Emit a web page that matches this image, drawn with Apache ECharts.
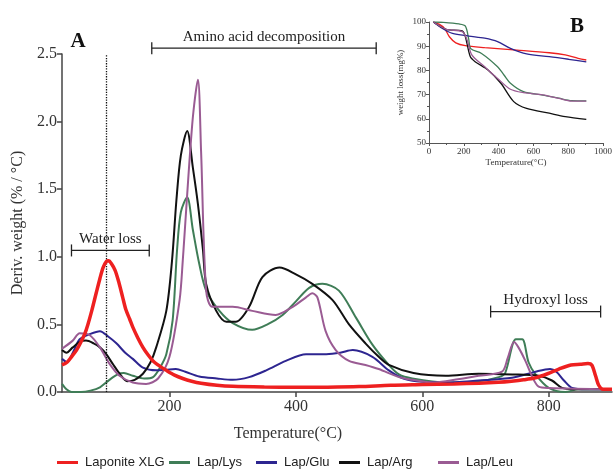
<!DOCTYPE html>
<html>
<head>
<meta charset="utf-8">
<title>DTG / TGA</title>
<script src="https://cdn.jsdelivr.net/npm/echarts@6.0.0/dist/echarts.min.js"></script>
<style>
    html, body { margin: 0; padding: 0; background: #fff; }
    #chart { width: 615px; height: 474px; }
</style>
</head>
<body>
<div id="chart"></div>
<script>
    var names = ['Laponite XLG', 'Lap/Lys', 'Lap/Glu', 'Lap/Arg', 'Lap/Leu'];
    var colors = ['#ee2020', '#3f7d57', '#2d2590', '#111111', '#9a5b93'];

    // panel A - deriv. weight, [temperature °C, %/°C]
    var dtgLaponite = [[30,0.2],[38,0.22],[45,0.26],[53,0.31],[60,0.37],[66,0.43],[71,0.5],[77,0.6],[84,0.73],[90,0.84],[95,0.92],[100,0.965],[104,0.97],[108,0.95],[114,0.9],[120,0.81],[126,0.7],[131,0.61],[137,0.54],[142,0.48],[150,0.4],[158,0.33],[166,0.275],[174,0.23],[185,0.19],[195,0.16],[208,0.125],[221,0.1],[235,0.08],[250,0.065],[275,0.05],[300,0.042],[350,0.037],[400,0.035],[450,0.036],[500,0.04],[550,0.05],[600,0.055],[650,0.06],[690,0.065],[720,0.072],[741,0.08],[760,0.09],[779,0.105],[798,0.135],[816,0.17],[835,0.2],[850,0.205],[862,0.21],[868,0.2],[874,0.12],[879,0.05],[886,0.02],[900,0.02]];
    var dtgLys = [[30,0.06],[37,0.02],[45,0.0],[60,0.0],[75,0.01],[90,0.035],[105,0.09],[118,0.13],[128,0.14],[142,0.12],[160,0.1],[174,0.11],[185,0.18],[195,0.28],[205,0.53],[212,1.05],[218,1.33],[228,1.44],[237,1.2],[247,0.95],[258,0.75],[279,0.6],[300,0.51],[331,0.46],[355,0.5],[379,0.57],[400,0.67],[421,0.77],[442,0.8],[468,0.75],[495,0.55],[521,0.35],[547,0.2],[563,0.13],[584,0.1],[637,0.07],[689,0.08],[721,0.11],[731,0.14],[748,0.39],[758,0.39],[768,0.22],[779,0.13],[800,0.03],[826,0.0],[847,0.02],[900,0.02]];
    var dtgGlu = [[30,0.245],[38,0.22],[48,0.3],[58,0.39],[75,0.43],[90,0.45],[103,0.41],[116,0.36],[130,0.29],[142,0.245],[158,0.18],[179,0.16],[195,0.165],[210,0.17],[225,0.15],[247,0.115],[275,0.1],[300,0.09],[326,0.11],[353,0.16],[384,0.23],[416,0.28],[448,0.28],[470,0.29],[490,0.31],[521,0.26],[547,0.16],[570,0.1],[600,0.075],[637,0.07],[689,0.085],[742,0.105],[779,0.15],[802,0.17],[812,0.15],[824,0.085],[837,0.03],[860,0.02],[900,0.02]];
    var dtgArg = [[30,0.31],[37,0.29],[47,0.33],[58,0.37],[68,0.38],[80,0.36],[90,0.33],[100,0.28],[110,0.21],[122,0.13],[133,0.08],[145,0.09],[158,0.135],[170,0.22],[179,0.33],[195,0.6],[204,0.97],[211,1.42],[218,1.75],[228,1.93],[237,1.66],[245,1.39],[253,1.05],[258,0.8],[274,0.6],[290,0.52],[305,0.52],[326,0.63],[347,0.85],[374,0.92],[400,0.87],[426,0.8],[458,0.68],[484,0.5],[510,0.36],[531,0.26],[547,0.2],[586,0.14],[637,0.12],[689,0.135],[742,0.13],[784,0.12],[805,0.085],[821,0.03],[840,0.02],[900,0.02]];
    var dtgLeu = [[30,0.32],[47,0.38],[58,0.435],[74,0.42],[90,0.33],[105,0.21],[121,0.12],[142,0.07],[163,0.06],[182,0.1],[200,0.26],[216,0.68],[221,0.97],[236,1.98],[245,2.31],[250,1.78],[258,0.75],[268,0.63],[300,0.63],[331,0.6],[368,0.57],[395,0.63],[416,0.7],[426,0.73],[434,0.7],[447,0.45],[463,0.31],[484,0.23],[510,0.2],[531,0.17],[563,0.11],[584,0.09],[616,0.07],[637,0.08],[689,0.12],[726,0.15],[735,0.25],[745,0.37],[752,0.33],[763,0.23],[775,0.1],[784,0.04],[800,0.03],[900,0.02]];

    // panel B - weight loss, [temperature °C, mg%]
    var tgaLaponite = [[25,100],[60,99],[89,97.4],[117,93.9],[154,91.4],[209,90.2],[320,89.4],[505,88.4],[691,87.3],[783,86.4],[857,85],[904,84.3]];
    var tgaLys = [[25,100],[70,99.9],[172,99.2],[209,98.3],[228,93],[240,89],[302,87],[394,81.5],[432,78],[468,74.7],[543,71.2],[654,69.8],[746,68.5],[820,67.5],[904,67.4]];
    var tgaGlu = [[25,100],[80,97.2],[135,95.3],[228,94.2],[320,93.3],[394,91.9],[468,89.1],[561,86.8],[691,85.7],[802,84.6],[904,83.5]];
    var tgaArg = [[25,100],[98,97],[191,96.3],[209,93.9],[237,85.7],[265,83.6],[339,80.2],[413,74.7],[487,67.1],[561,64.3],[691,62.3],[783,60.9],[904,59.8]];
    var tgaLeu = [[25,100],[98,97],[191,96],[219,92.6],[246,86.4],[320,81.5],[394,76.7],[468,72.2],[543,70.8],[654,69.9],[746,68.4],[820,67.3],[904,67.3]];

    var xTicks = [200, 400, 600, 800];

    // brackets on panel A: [from, to, level, text]
    var brackets = [
        [172, 527, 2.543, 'Amino acid decomposition'],
        [45, 168, 1.047, 'Water loss'],
        [708, 882, 0.595, 'Hydroxyl loss']
    ];
    var waterLine = 100;

    var dtg = [dtgLaponite, dtgLys, dtgGlu, dtgArg, dtgLeu];
    var tga = [tgaLaponite, tgaLys, tgaGlu, tgaArg, tgaLeu];

    var serif = "'Liberation Serif', 'Times New Roman', serif";
    var sans = "'Liberation Sans', Arial, sans-serif";

    var series = [];
    names.forEach(function (n, i) {
        var s = {
            name: n,
            type: 'line',
            xAxisIndex: 0,
            yAxisIndex: 0,
            data: dtg[i],
            showSymbol: false,
            smooth: 0.3,
            lineStyle: { color: colors[i], width: i === 0 ? 3.5 : 2 },
            itemStyle: { color: colors[i] },
            z: i === 0 ? 5 : 3
        };
        if (i === 0) {
            s.markLine = {
                silent: true,
                symbol: ['none', 'none'],
                label: { show: false },
                lineStyle: { type: 'dotted', color: '#111', width: 1.3 },
                data: [{ xAxis: waterLine }]
            };
        }
        series.push(s);
    });
    names.forEach(function (n, i) {
        series.push({
            name: n,
            type: 'line',
            xAxisIndex: 1,
            yAxisIndex: 1,
            data: tga[i],
            showSymbol: false,
            smooth: 0.3,
            lineStyle: { color: colors[i], width: 1.3 },
            itemStyle: { color: colors[i] }
        });
    });

    // one legend per item so the spacing follows the figure
    var legendLeft = [52, 164, 251, 334, 433];
    var legends = names.map(function (n, i) {
        return {
            data: [n],
            left: legendLeft[i],
            top: 451,
            icon: 'rect',
            itemWidth: 21,
            itemHeight: 3,
            textStyle: { fontFamily: sans, fontSize: 13, color: '#222', padding: [0, 0, 0, 2] }
        };
    });

    var option = {
        animation: false,
        backgroundColor: '#fff',
        legend: legends,
        grid: [
            { left: 62, top: 54, right: 3, bottom: 82 },
            { left: 429, top: 22, width: 180, height: 121 }
        ],
        xAxis: [
            {
                type: 'value',
                gridIndex: 0,
                min: 30,
                max: 900,
                splitLine: { show: false },
                axisLine: { lineStyle: { color: '#444', width: 1.5 } },
                axisTick: { customValues: xTicks, length: 5, lineStyle: { color: '#444', width: 1.5 } },
                axisLabel: { customValues: xTicks, fontFamily: serif, fontSize: 16, color: '#333', margin: 7 }
            },
            {
                type: 'value',
                gridIndex: 1,
                min: 0,
                max: 1000,
                interval: 200,
                name: 'Temperature(°C)',
                nameLocation: 'middle',
                nameGap: 15,
                nameTextStyle: { fontFamily: serif, fontSize: 9, color: '#333' },
                splitLine: { show: false },
                axisLine: { lineStyle: { color: '#555', width: 1 } },
                axisTick: { length: 3, lineStyle: { color: '#555' } },
                minorTick: { show: true, splitNumber: 2, length: 2, lineStyle: { color: '#555' } },
                axisLabel: {
                    fontFamily: serif, fontSize: 9, color: '#333', margin: 4,
                    formatter: function (v) { return String(v); }
                }
            }
        ],
        yAxis: [
            {
                type: 'value',
                gridIndex: 0,
                min: 0,
                max: 2.5,
                interval: 0.5,
                name: 'Deriv. weight (% / °C)',
                nameLocation: 'middle',
                nameGap: 32,
                nameTextStyle: { fontFamily: serif, fontSize: 16, color: '#333' },
                splitLine: { show: false },
                axisLine: { show: true, lineStyle: { color: '#444', width: 1.5 } },
                axisTick: { show: true, length: 5, lineStyle: { color: '#444', width: 1.5 } },
                axisLabel: {
                    fontFamily: serif, fontSize: 16, color: '#333', margin: 5,
                    formatter: function (v) { return v.toFixed(1); }
                }
            },
            {
                type: 'value',
                gridIndex: 1,
                min: 50,
                max: 100,
                interval: 10,
                name: 'weight loss(mg%)',
                nameLocation: 'middle',
                nameGap: 24,
                nameTextStyle: { fontFamily: serif, fontSize: 9, color: '#333' },
                splitLine: { show: false },
                axisLine: { show: true, lineStyle: { color: '#555', width: 1 } },
                axisTick: { show: true, length: 3, lineStyle: { color: '#555' } },
                minorTick: { show: true, splitNumber: 2, length: 2, lineStyle: { color: '#555' } },
                axisLabel: { fontFamily: serif, fontSize: 9, color: '#333', margin: 3 }
            }
        ],
        series: series
    };

    var chart = echarts.init(document.getElementById('chart'));
    chart.setOption(option);

    // brackets, panel letters and x title
    var g = [];
    brackets.forEach(function (b) {
        var p0 = chart.convertToPixel({ gridIndex: 0 }, [b[0], b[2]]);
        var p1 = chart.convertToPixel({ gridIndex: 0 }, [b[1], b[2]]);
        var st = { stroke: '#222', lineWidth: 1.3 };
        g.push({ type: 'line', shape: { x1: p0[0], y1: p0[1], x2: p1[0], y2: p1[1] }, style: st });
        g.push({ type: 'line', shape: { x1: p0[0], y1: p0[1] - 6, x2: p0[0], y2: p0[1] + 6 }, style: st });
        g.push({ type: 'line', shape: { x1: p1[0], y1: p1[1] - 6, x2: p1[0], y2: p1[1] + 6 }, style: st });
        g.push({
            type: 'text',
            x: (p0[0] + p1[0]) / 2,
            y: p0[1] - 11,
            style: {
                text: b[3], font: '15px ' + serif, fill: '#222',
                align: 'center', verticalAlign: 'middle',
                textAlign: 'center', textVerticalAlign: 'middle'
            }
        });
    });
    g.push({
        type: 'text', x: 78, y: 42,
        style: { text: 'A', font: 'bold 21px ' + serif, fill: '#111', align: 'center', verticalAlign: 'middle', textAlign: 'center', textVerticalAlign: 'middle' }
    });
    g.push({
        type: 'text', x: 577, y: 27,
        style: { text: 'B', font: 'bold 21px ' + serif, fill: '#111', align: 'center', verticalAlign: 'middle', textAlign: 'center', textVerticalAlign: 'middle' }
    });
    g.push({
        type: 'text', x: 288, y: 434,
        style: { text: 'Temperature(°C)', font: '16px ' + serif, fill: '#333', align: 'center', verticalAlign: 'middle', textAlign: 'center', textVerticalAlign: 'middle' }
    });
    chart.setOption({ graphic: g });
</script>
</body>
</html>
